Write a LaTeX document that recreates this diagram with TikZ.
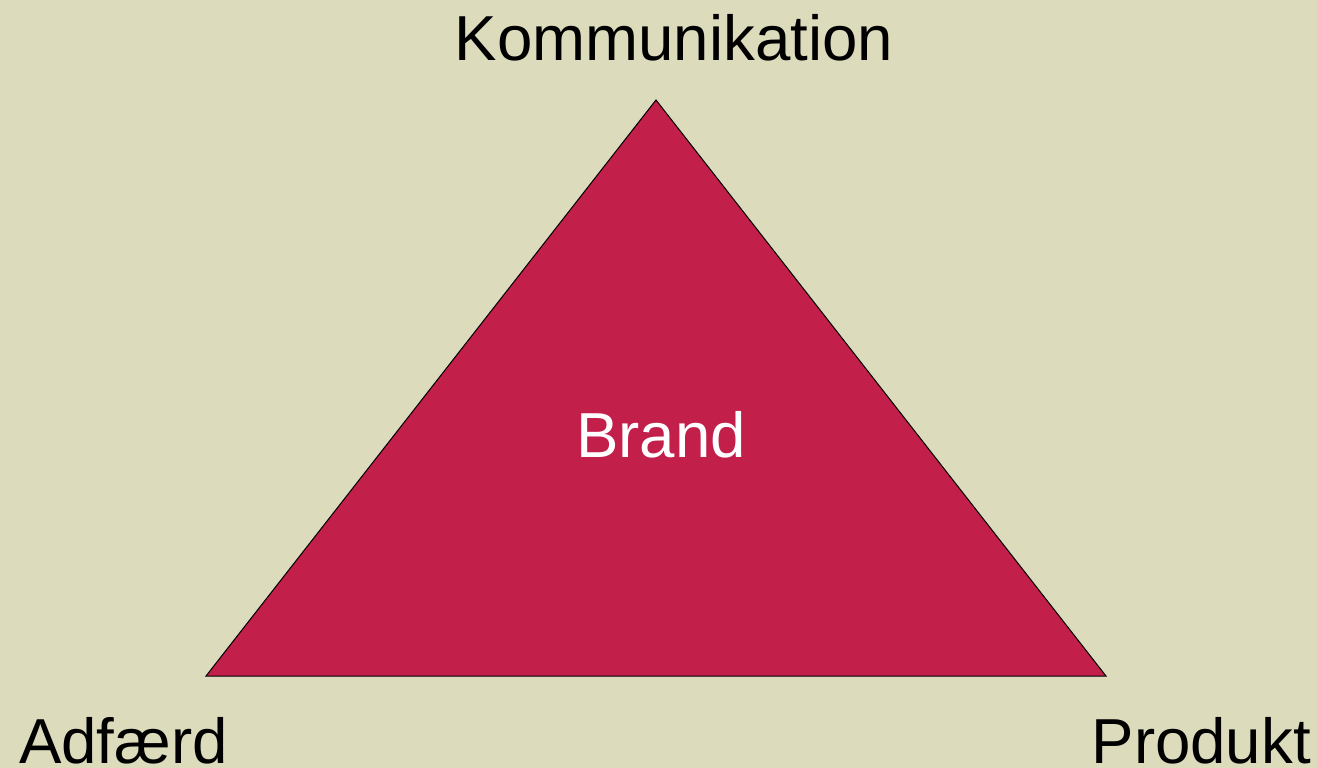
\documentclass[tikz,border=0pt]{standalone}
\usepackage{fontspec}
\setmainfont{Liberation Sans}
\definecolor{bgbeige}{HTML}{DCDBBC}
\definecolor{crimson}{HTML}{C21F4B}
\begin{document}
\begin{tikzpicture}[x=1pt,y=-1pt,
  lbl/.style={inner sep=0pt,font=\fontsize{63.6}{70}\selectfont,anchor=base}]
\fill[bgbeige] (0,0) rectangle (1317,768);
\useasboundingbox (0,0) rectangle (1317,768);
\coordinate (top) at (656,100);
\coordinate (bl) at (206,676);
\coordinate (br) at (1106,676);
\draw[fill=crimson,draw=black,line width=1pt,line join=miter] (top) -- (bl) -- (br) -- cycle;
\node[lbl] (komm) at (674,60) {Kommunikation};
\node[lbl,text=white] (brand) at (661,457) {Brand};
\node[lbl,anchor=base west] (adf) at (19,763) {Adfærd};
\node[lbl,anchor=base east] (prod) at (1311,763) {Produkt};
\end{tikzpicture}
\end{document}
